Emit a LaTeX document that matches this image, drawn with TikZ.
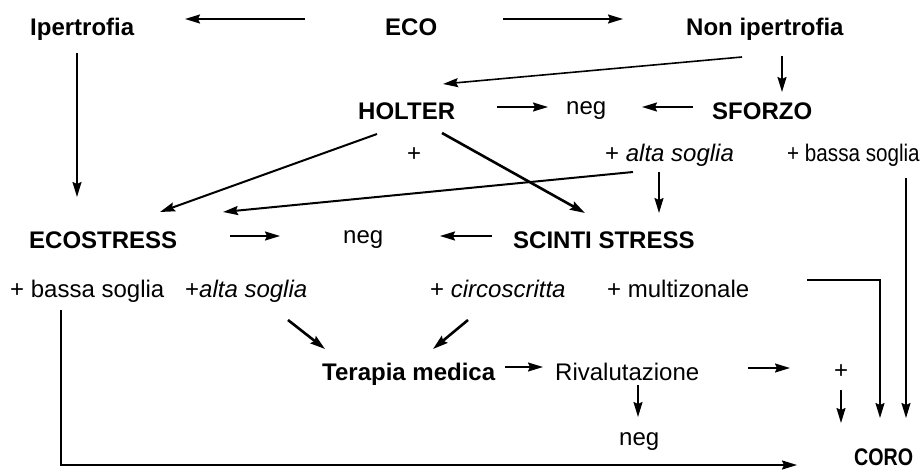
\documentclass[tikz,border=0pt]{standalone}
\usepackage{fontspec}
\setmainfont{Liberation Sans}
\newfontfamily\condA[FakeStretch=0.86]{Liberation Sans}
\newfontfamily\condB[FakeStretch=0.82]{Liberation Sans}
\usetikzlibrary{arrows.meta,calc}
\begin{document}
\begin{tikzpicture}[x=1pt,y=-1pt,
  lbl/.style={inner sep=0pt,anchor=base west,font=\fontsize{24}{28}\selectfont},
  blbl/.style={lbl,font=\fontsize{24}{28}\selectfont\bfseries},
  arr/.style={line width=1.6pt,-{Stealth[length=15pt,width=9pt,inset=2pt]}},
  tarr/.style={arr,line width=2.6pt},
  marr/.style={arr,line width=2pt}]
\useasboundingbox (0,0) rectangle (921,471);
% nodes
\node[blbl] (ipert) at (30,35) {Ipertrofia};
\node[blbl] (eco) at (385,35) {ECO};
\node[blbl] (nonip) at (686,35) {Non ipertrofia};
\node[blbl] (holter) at (358,119) {HOLTER};
\node[lbl] (neg1) at (566,114) {neg};
\node[blbl] (sforzo) at (712,119) {SFORZO};
\node[lbl] (plus1) at (407,161) {+};
\node[lbl] (alta1) at (605,161) {+ \textit{alta soglia}};
\node[lbl,font=\fontsize{24}{28}\condA] (bassa1) at (787,161) {+ bassa soglia};
\node[blbl] (ecostress) at (29,248) {ECOSTRESS};
\node[lbl] (neg2) at (343,243) {neg};
\node[blbl] (scinti) at (513,248) {SCINTI STRESS};
\node[lbl] (bassa2) at (10,297) {+ bassa soglia};
\node[lbl] (alta2) at (185,297) {+\textit{alta soglia}};
\node[lbl] (circ) at (430,297) {+ \textit{circoscritta}};
\node[lbl] (multi) at (607,297) {+ multizonale};
\node[blbl] (terapia) at (322,380) {Terapia medica};
\node[lbl] (rival) at (555,380) {Rivalutazione};
\node[lbl] (plus2) at (834,378) {+};
\node[lbl] (neg3) at (619,445) {neg};
\node[lbl,font=\fontsize{24}{28}\condB\bfseries] (coro) at (854,465) {CORO};
% connectors
\draw[arr] ($(eco.base west)+(-80,-16)$) -- ($(ipert.base west)+(155,-16)$);
\draw[arr] ($(eco.base west)+(118,-16)$) -- ($(nonip.base west)+(-63,-16)$);
\draw[arr] ($(ipert.base west)+(47,18)$) -- ($(ecostress.base west)+(48,-51)$);
\draw[arr] ($(nonip.base west)+(56,22)$) -- ($(holter.base west)+(85,-35)$);
\draw[arr] ($(nonip.base west)+(96,21)$) -- ($(sforzo.base west)+(70,-27)$);
\draw[arr] ($(holter.base west)+(139,-12)$) -- ($(neg1.base west)+(-18,-7)$);
\draw[arr] ($(sforzo.base west)+(-19,-12)$) -- ($(neg1.base west)+(76,-7)$);
\draw[marr] ($(holter.base west)+(19,15)$) -- ($(ecostress.base west)+(131,-36)$);
\draw[tarr] ($(holter.base west)+(84,14)$) -- ($(scinti.base west)+(72,-35)$);
\draw[marr] ($(alta1.base west)+(28,11)$) -- ($(ecostress.base west)+(194,-36)$);
\draw[arr] ($(alta1.base west)+(54,11)$) -- ($(scinti.base west)+(146,-35)$);
\draw[arr] ($(ecostress.base west)+(201,-12)$) -- ($(neg2.base west)+(-63,-7)$);
\draw[arr] ($(scinti.base west)+(-21,-12)$) -- ($(neg2.base west)+(97,-7)$);
\draw[arr] ($(multi.base west)+(200,-17)$) -| ($(coro.base west)+(26,-47)$);
\draw[arr] ($(bassa1.base west)+(119,17)$) -- ($(coro.base west)+(52,-47)$);
\draw[marr] ($(bassa2.base west)+(51,13)$) |- ($(coro.base west)+(-57,0)$);
\draw[tarr] ($(alta2.base west)+(103,23)$) -- ($(terapia.base west)+(3,-31)$);
\draw[tarr] ($(circ.base west)+(38,23)$) -- ($(terapia.base west)+(111,-31)$);
\draw[arr] ($(terapia.base west)+(183,-13)$) -- ($(rival.base west)+(-12,-13)$);
\draw[arr] ($(rival.base west)+(193,-12)$) -- ($(plus2.base west)+(-44,-10)$);
\draw[arr] ($(plus2.base west)+(7,12)$) -- ($(coro.base west)+(-13,-42)$);
\draw[arr] ($(rival.base west)+(83,5)$) -- ($(neg3.base west)+(19,-28)$);
\end{tikzpicture}
\end{document}
